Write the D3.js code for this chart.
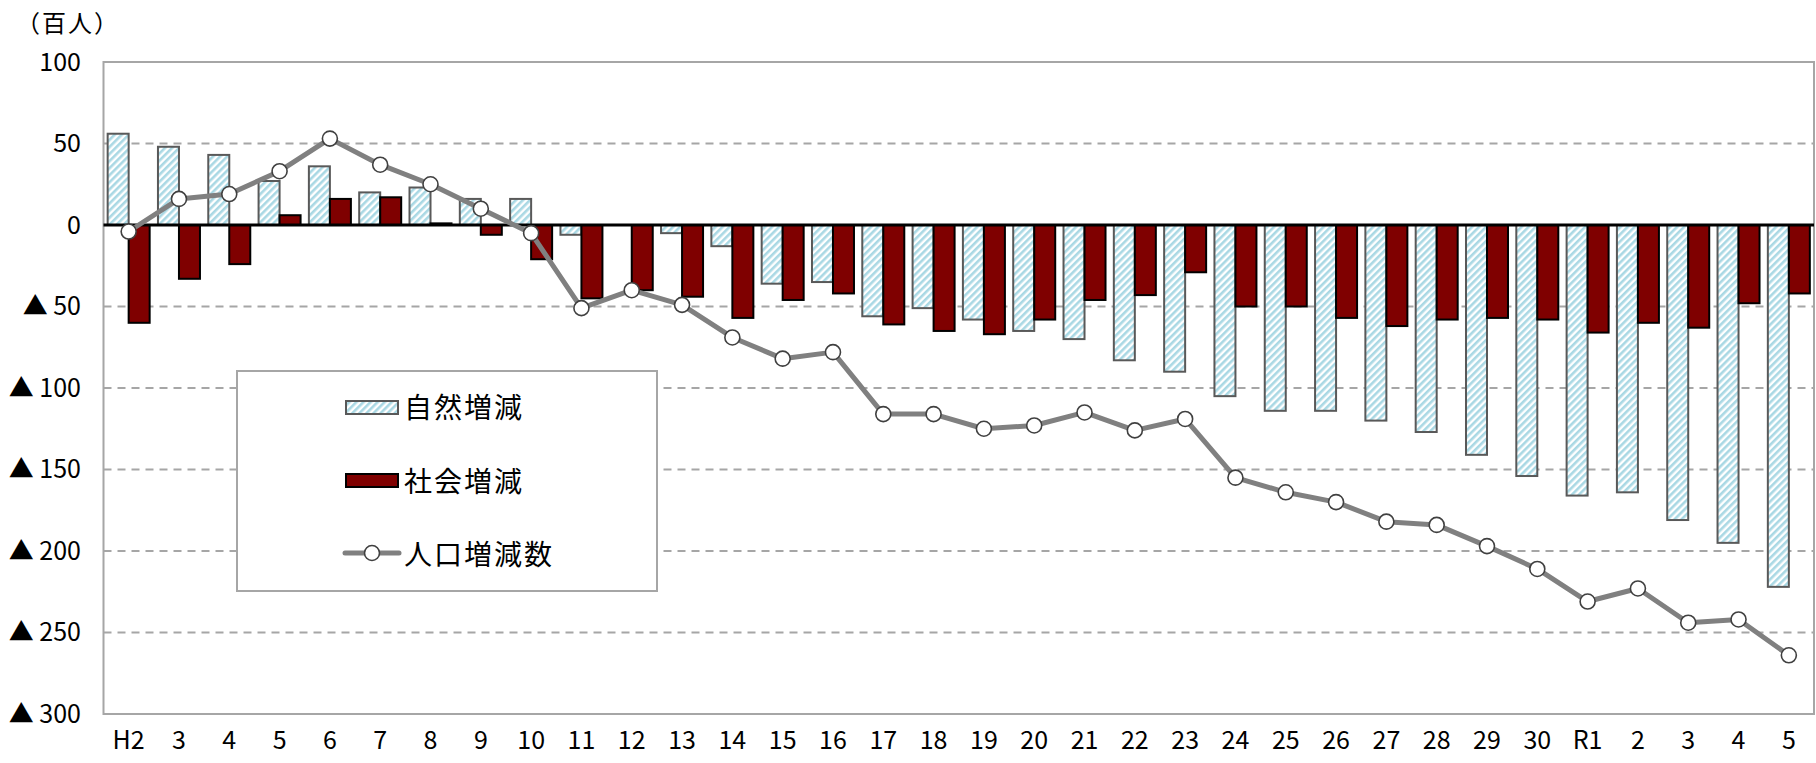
<!DOCTYPE html>
<html>
<head>
<meta charset="utf-8">
<script src="https://cdn.jsdelivr.net/npm/d3@7"></script>
<style>
  body { margin: 0; background: #fff; }
  svg { display: block; font-family: "Noto Sans CJK JP", sans-serif; }
</style>
</head>
<body>
<div id="chart"></div>
<script>
const categories = ['H2','3','4','5','6','7','8','9','10','11','12','13','14','15','16','17','18','19','20','21','22','23','24','25','26','27','28','29','30','R1','2','3','4','5'];
const natural = [56,48,43,27,36,20,23,16,16,-6,0,-5,-13,-36,-35,-56,-51,-58,-65,-70,-83,-90,-105,-114,-114,-120,-127,-141,-154,-166,-164,-181,-195,-222];
const social = [-60,-33,-24,6,16,17,1,-6,-21,-45,-40,-44,-57,-46,-42,-61,-65,-67,-58,-46,-43,-29,-50,-50,-57,-62,-58,-57,-58,-66,-60,-63,-48,-42];
const population = [-4,16,19,33,53,37,25,10,-5,-51,-40,-49,-69,-82,-78,-116,-116,-125,-123,-115,-126,-119,-155,-164,-170,-182,-184,-197,-211,-231,-223,-244,-242,-264];
const yTicks = [100, 50, 0, -50, -100, -150, -200, -250, -300];
const legendLabels = ['自然増減', '社会増減', '人口増減数'];
const unitLabel = '（百人）';

const width = 1816, height = 763;
const plot = { left: 103.5, right: 1814, top: 62, bottom: 714 };

const svg = d3.select('#chart').append('svg').attr('width', width).attr('height', height);

const defs = svg.append('defs');
const hatch = defs.append('pattern')
  .attr('id', 'hatch')
  .attr('patternUnits', 'userSpaceOnUse')
  .attr('width', 5)
  .attr('height', 5)
  .attr('patternTransform', 'rotate(45)');
hatch.append('rect').attr('width', 5).attr('height', 5).attr('fill', '#ffffff');
hatch.append('rect').attr('width', 2.6).attr('height', 5).attr('fill', '#a9d8e4');

const x = d3.scaleBand().domain(d3.range(categories.length)).range([plot.left, plot.right]).padding(0);
const y = d3.scaleLinear().domain([-300, 100]).range([plot.bottom, plot.top]);
const barW = 21;
const cx = (i) => x(i) + x.bandwidth() / 2;

// gridlines
svg.append('g')
  .selectAll('line')
  .data(yTicks.filter((t) => t !== 0 && t !== -300 && t !== 100))
  .join('line')
  .attr('x1', plot.left).attr('x2', plot.right)
  .attr('y1', (d) => y(d)).attr('y2', (d) => y(d))
  .attr('stroke', '#a6a6a6').attr('stroke-width', 2).attr('stroke-dasharray', '8,6');

// plot frame
svg.append('rect')
  .attr('x', plot.left).attr('y', plot.top)
  .attr('width', plot.right - plot.left).attr('height', plot.bottom - plot.top)
  .attr('fill', 'none').attr('stroke', '#a6a6a6').attr('stroke-width', 2);

// legend box (drawn before the series so it hides the gridlines behind it)
const legend = svg.append('g');
legend.append('rect')
  .attr('x', 237).attr('y', 371).attr('width', 420).attr('height', 220)
  .attr('fill', '#fff').attr('stroke', '#a6a6a6').attr('stroke-width', 2);

// bars
svg.append('g')
  .selectAll('rect')
  .data(natural)
  .join('rect')
  .attr('x', (d, i) => cx(i) - barW)
  .attr('y', (d) => y(Math.max(0, d)))
  .attr('width', barW)
  .attr('height', (d) => Math.abs(y(d) - y(0)))
  .attr('fill', 'url(#hatch)')
  .attr('stroke', '#595959').attr('stroke-width', 2);

svg.append('g')
  .selectAll('rect')
  .data(social)
  .join('rect')
  .attr('x', (d, i) => cx(i))
  .attr('y', (d) => y(Math.max(0, d)))
  .attr('width', barW)
  .attr('height', (d) => Math.abs(y(d) - y(0)))
  .attr('fill', '#7f0000')
  .attr('stroke', '#000').attr('stroke-width', 2);

// zero line
svg.append('line')
  .attr('x1', plot.left).attr('x2', plot.right)
  .attr('y1', y(0)).attr('y2', y(0))
  .attr('stroke', '#000').attr('stroke-width', 3);

// population line
const line = d3.line().x((d, i) => cx(i)).y((d) => y(d));
svg.append('path')
  .datum(population)
  .attr('d', line)
  .attr('fill', 'none').attr('stroke', '#808080').attr('stroke-width', 5).attr('stroke-linejoin', 'round');

svg.append('g')
  .selectAll('circle')
  .data(population)
  .join('circle')
  .attr('cx', (d, i) => cx(i))
  .attr('cy', (d) => y(d))
  .attr('r', 7.5)
  .attr('fill', '#fff').attr('stroke', '#404040').attr('stroke-width', 1.6);

// y axis labels
const yAxis = d3.axisLeft(y)
  .tickValues(yTicks)
  .tickSize(0)
  .tickPadding(0)
  .tickFormat((d) => (d < 0 ? '▲ ' + Math.abs(d) : String(d)));
svg.append('g')
  .attr('transform', `translate(81,0)`)
  .call(yAxis)
  .call((g) => g.select('.domain').remove())
  .call((g) => g.selectAll('text').attr('font-size', 25).attr('fill', '#000').attr('font-family', '"Noto Sans CJK JP", sans-serif'));

// x axis labels
const xAxis = d3.axisBottom(x)
  .tickSize(0)
  .tickPadding(0)
  .tickFormat((i) => categories[i]);
svg.append('g')
  .attr('transform', `translate(0,731)`)
  .call(xAxis)
  .call((g) => g.select('.domain').remove())
  .call((g) => g.selectAll('text').attr('font-size', 25).attr('fill', '#000').attr('font-family', '"Noto Sans CJK JP", sans-serif'));

// unit label
svg.append('text')
  .attr('x', 16).attr('y', 24).attr('dy', '0.35em')
  .attr('font-size', 24)
  .attr('letter-spacing', 2)
  .text(unitLabel);

// legend entries
legend.append('rect')
  .attr('x', 346).attr('y', 401).attr('width', 52).attr('height', 13)
  .attr('fill', 'url(#hatch)').attr('stroke', '#595959').attr('stroke-width', 2);
legend.append('rect')
  .attr('x', 346).attr('y', 474).attr('width', 52).attr('height', 13)
  .attr('fill', '#7f0000').attr('stroke', '#000').attr('stroke-width', 2);
legend.append('line')
  .attr('x1', 345).attr('x2', 399).attr('y1', 553).attr('y2', 553)
  .attr('stroke', '#808080').attr('stroke-width', 5).attr('stroke-linecap', 'round');
legend.append('circle')
  .attr('cx', 372).attr('cy', 553).attr('r', 7.5)
  .attr('fill', '#fff').attr('stroke', '#404040').attr('stroke-width', 1.6);

legend.selectAll('text.leg')
  .data(legendLabels)
  .join('text')
  .attr('class', 'leg')
  .attr('x', 404)
  .attr('y', (d, i) => [408, 482, 555][i])
  .attr('dy', '0.35em')
  .attr('font-size', 28)
  .attr('letter-spacing', 2)
  .attr('fill', '#000')
  .text((d) => d);
</script>
</body>
</html>
